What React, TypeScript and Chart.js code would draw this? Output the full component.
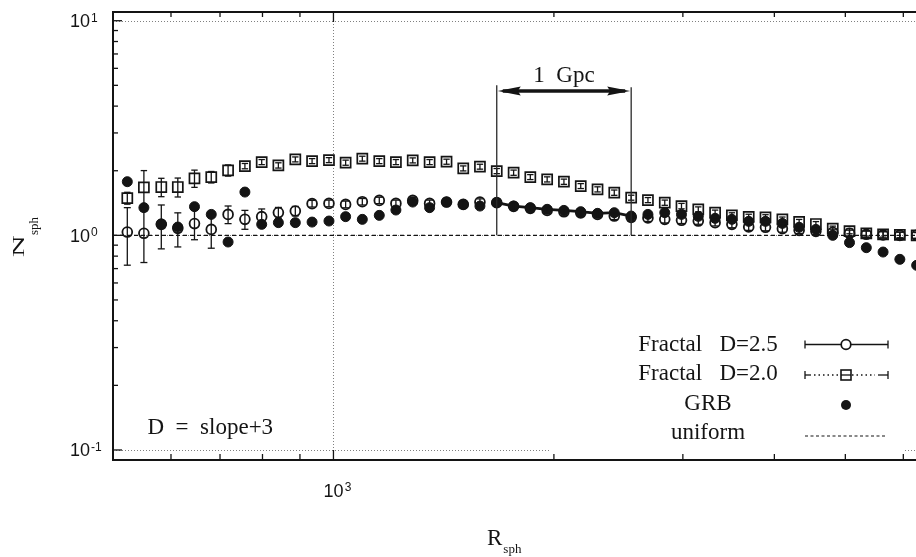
import React, { useEffect, useRef } from "react";
import { Chart, registerables } from "chart.js";
Chart.register(...registerables);

// Sphere radii R_sph (x positions of the measured points)
const radii = [523, 551, 582, 613, 646, 681, 718, 757, 798, 841, 887, 935, 986, 1039, 1095, 1155, 1217, 1283, 1353, 1427, 1504, 1585, 1671, 1762, 1857, 1958, 2064, 2176, 2294, 2418, 2550, 2688, 2834, 2987, 3149, 3320, 3500, 3690, 3890, 4102, 4324, 4558, 4806, 5066, 5341, 5630, 5935, 6257];

// GRB counts
const grb = [1.778, 1.346, 1.13, 1.093, 1.36, 1.252, 0.931, 1.591, 1.125, 1.146, 1.146, 1.153, 1.166, 1.222, 1.187, 1.239, 1.312, 1.429, 1.346, 1.429, 1.394, 1.369, 1.42, 1.369, 1.346, 1.322, 1.307, 1.289, 1.266, 1.275, 1.23, 1.252, 1.276, 1.252, 1.226, 1.2, 1.187, 1.162, 1.162, 1.137, 1.09, 1.066, 1.0, 0.925, 0.876, 0.836, 0.773, 0.725];

// Fractal D=2.0 (squares)
const frac20 = [1.492, 1.673, 1.679, 1.679, 1.843, 1.869, 2.008, 2.102, 2.195, 2.118, 2.259, 2.218, 2.242, 2.181, 2.277, 2.218, 2.195, 2.235, 2.195, 2.204, 2.051, 2.089, 1.993, 1.959, 1.869, 1.823, 1.778, 1.697, 1.638, 1.581, 1.498, 1.46, 1.42, 1.369, 1.322, 1.276, 1.239, 1.219, 1.213, 1.187, 1.156, 1.129, 1.074, 1.047, 1.022, 1.011, 1.005, 1.0];
const frac20Err = [0.095, 0.33, 0.165, 0.17, 0.17, 0.115, 0.12, 0.06, 0.06, 0.06, 0.06, 0.06, 0.06, 0.06, 0.06, 0.06, 0.06, 0.06, 0.06, 0.06, 0.055, 0.055, 0.055, 0.055, 0.05, 0.05, 0.05, 0.045, 0.045, 0.045, 0.04, 0.04, 0.04, 0.04, 0.035, 0.035, 0.035, 0.035, 0.035, 0.03, 0.03, 0.03, 0.03, 0.03, 0.03, 0.03, 0.03, 0.03];

// Fractal D=2.5 (open circles)
const frac25 = [1.036, 1.022, 1.125, 1.078, 1.134, 1.066, 1.252, 1.187, 1.222, 1.276, 1.298, 1.405, 1.409, 1.394, 1.435, 1.455, 1.409, 1.455, 1.409, 1.429, 1.394, 1.429, 1.42, 1.365, 1.336, 1.307, 1.287, 1.273, 1.252, 1.23, 1.213, 1.206, 1.187, 1.175, 1.166, 1.146, 1.125, 1.095, 1.09, 1.074, 1.055, 1.044, 1.033, 1.022, 1.011, 1.005, 1.0, 1.0];
const frac25Err = [0.31, 0.275, 0.26, 0.195, 0.18, 0.195, 0.118, 0.12, 0.105, 0.073, 0.066, 0.05, 0.05, 0.05, 0.05, 0.05, 0.05, 0.05, 0.05, 0.05, 0.05, 0.05, 0.05, 0.05, 0.045, 0.045, 0.045, 0.045, 0.045, 0.045, 0.045, 0.045, 0.045, 0.04, 0.04, 0.04, 0.04, 0.04, 0.04, 0.04, 0.035, 0.035, 0.035, 0.035, 0.035, 0.035, 0.035, 0.035];

const uniformLevel = 1;
const xMin = 500;
const xMax = 6244;
const yMin = 0.0898;
const yMax = 10.98;

const xMajorTicks = [1000];
const xMinorTicks = [600, 700, 800, 900, 2000, 3000, 4000, 5000, 6000];
const yMajorTicks = [0.1, 1, 10];
const yMinorTicks = [0.2, 0.3, 0.4, 0.5, 0.6, 0.7, 0.8, 0.9, 2, 3, 4, 5, 6, 7, 8, 9];
const xTickLabels = [{ v: 1000, base: "10", exp: "3" }];
const yTickLabels = [
  { v: 10, base: "10", exp: "1" },
  { v: 1, base: "10", exp: "0" },
  { v: 0.1, base: "10", exp: "-1" },
];

// 1 Gpc bracket: from point index to point index
const gpcFrom = 22;
const gpcTo = 30;
const gpcTop = 5.0;
const gpcArrow = 4.7;

const legendItems = ["Fractal   D=2.5", "Fractal   D=2.0", "GRB", "uniform"];

const INK = "#141414";
const SERIF = "'Liberation Serif', 'Times New Roman', serif";
const SANS = "'Liberation Sans', Arial, sans-serif";

function line(ctx: CanvasRenderingContext2D, x1: number, y1: number, x2: number, y2: number) {
  ctx.beginPath();
  ctx.moveTo(x1, y1);
  ctx.lineTo(x2, y2);
  ctx.stroke();
}

const customPlugin = {
  id: "custom",
  beforeDatasetsDraw(chart: any) {
    const { ctx, chartArea: a, scales } = chart;
    const x = scales.x, y = scales.y;
    ctx.save();
    ctx.strokeStyle = "#808080";
    ctx.lineWidth = 1;
    ctx.setLineDash([1, 2]);
    for (const v of yMajorTicks) {
      const py = Math.round(y.getPixelForValue(v)) + 0.5;
      line(ctx, a.left, py, a.right, py);
    }
    for (const v of xMajorTicks) {
      const px = Math.round(x.getPixelForValue(v)) + 0.5;
      line(ctx, px, a.top, px, a.bottom);
    }
    ctx.setLineDash([]);
    // legend box (white background)
    ctx.fillStyle = "#fff";
    ctx.fillRect(551, 322, 354, 130);
    ctx.restore();
  },
  afterDatasetsDraw(chart: any) {
    const { ctx, chartArea: a, scales } = chart;
    const x = scales.x, y = scales.y;
    ctx.save();
    ctx.beginPath();
    ctx.rect(a.left, a.top, a.right - a.left, a.bottom - a.top);
    ctx.clip();
    // error bars
    ctx.strokeStyle = INK;
    ctx.lineWidth = 1.3;
    const bars = (vals: number[], errs: number[], cap: number) => {
      for (let i = 0; i < vals.length; i++) {
        const px = x.getPixelForValue(radii[i]);
        const t = y.getPixelForValue(vals[i] + errs[i]);
        const b = y.getPixelForValue(vals[i] - errs[i]);
        line(ctx, px, t, px, b);
        line(ctx, px - cap, t, px + cap, t);
        line(ctx, px - cap, b, px + cap, b);
      }
    };
    bars(frac25, frac25Err, 3.5);
    bars(frac20, frac20Err, 3.2);

    // 1 Gpc bracket
    const xl = x.getPixelForValue(radii[gpcFrom]);
    const xr = x.getPixelForValue(radii[gpcTo]);
    const yb = y.getPixelForValue(uniformLevel);
    const yt = y.getPixelForValue(gpcTop);
    const ya = y.getPixelForValue(gpcArrow);
    ctx.strokeStyle = "#2a2a2a";
    ctx.lineWidth = 1.3;
    line(ctx, xl, yb, xl, yt);
    line(ctx, xr, yb, xr, yt + 2);
    ctx.strokeStyle = INK;
    ctx.lineWidth = 3.5;
    line(ctx, xl + 6, ya, xr - 6, ya);
    ctx.fillStyle = INK;
    ctx.beginPath();
    ctx.moveTo(xl + 1, ya);
    ctx.lineTo(xl + 24, ya - 4.5);
    ctx.lineTo(xl + 21, ya);
    ctx.lineTo(xl + 24, ya + 4.5);
    ctx.closePath();
    ctx.fill();
    ctx.beginPath();
    ctx.moveTo(xr - 1, ya);
    ctx.lineTo(xr - 24, ya - 4.5);
    ctx.lineTo(xr - 21, ya);
    ctx.lineTo(xr - 24, ya + 4.5);
    ctx.closePath();
    ctx.fill();
    ctx.restore();

    ctx.save();
    ctx.fillStyle = INK;
    ctx.font = `23px ${SERIF}`;
    ctx.textAlign = "center";
    ctx.textBaseline = "alphabetic";
    ctx.fillText("1  Gpc", (xl + xr) / 2, ya - 9);

    // axes borders
    ctx.strokeStyle = INK;
    ctx.lineWidth = 2;
    line(ctx, a.left, a.top, a.left, a.bottom + 1);
    line(ctx, a.left - 1, a.bottom, a.right, a.bottom);
    line(ctx, a.left - 1, a.top, a.right, a.top);

    // inward ticks
    ctx.lineWidth = 1.3;
    for (const v of xMinorTicks) {
      const px = x.getPixelForValue(v);
      line(ctx, px, a.bottom, px, a.bottom - 6);
      line(ctx, px, a.top, px, a.top + 5);
    }
    for (const v of xMajorTicks) {
      const px = x.getPixelForValue(v);
      line(ctx, px, a.bottom, px, a.bottom - 10);
      line(ctx, px, a.top, px, a.top + 10);
    }
    for (const v of yMinorTicks) {
      const py = y.getPixelForValue(v);
      line(ctx, a.left, py, a.left + 5, py);
    }
    for (const v of yMajorTicks) {
      const py = y.getPixelForValue(v);
      line(ctx, a.left, py, a.left + 9, py);
    }

    // tick labels
    ctx.fillStyle = INK;
    ctx.textBaseline = "alphabetic";
    for (const t of yTickLabels) {
      const py = y.getPixelForValue(t.v);
      ctx.font = `18px ${SANS}`;
      ctx.textAlign = "right";
      ctx.fillText(t.base, 90, py + 6.5);
      ctx.font = `12px ${SANS}`;
      ctx.textAlign = "left";
      ctx.fillText(t.exp, 91, py + 1);
    }
    for (const t of xTickLabels) {
      const px = x.getPixelForValue(t.v);
      ctx.font = `18px ${SANS}`;
      ctx.textAlign = "left";
      const w = ctx.measureText(t.base).width;
      ctx.font = `12px ${SANS}`;
      const we = ctx.measureText(t.exp).width;
      const left = px + 4 - (w + we + 1) / 2;
      ctx.font = `18px ${SANS}`;
      ctx.fillText(t.base, left, 496.5);
      ctx.font = `12px ${SANS}`;
      ctx.fillText(t.exp, left + w + 1, 491);
    }

    // axis titles
    ctx.textAlign = "left";
    ctx.font = `23px ${SERIF}`;
    ctx.fillText("R", 487, 545);
    const rw = ctx.measureText("R").width;
    ctx.font = `13px ${SERIF}`;
    ctx.fillText("sph", 487 + rw + 1, 553);

    ctx.save();
    ctx.translate(23.5, 257);
    ctx.rotate(-Math.PI / 2);
    ctx.font = `24px ${SERIF}`;
    ctx.textAlign = "left";
    ctx.save();
    ctx.scale(1.25, 0.68);
    ctx.fillText("N", 0, 0);
    ctx.restore();
    ctx.font = `13px ${SERIF}`;
    ctx.fillText("sph", 22, 14);
    ctx.restore();

    // annotation
    ctx.font = `23px ${SERIF}`;
    ctx.textAlign = "left";
    ctx.fillText("D  =  slope+3", 147.5, 433.5);

    // legend
    ctx.textAlign = "center";
    const rowsText = [351, 380, 410, 438.5];
    legendItems.forEach((s, i) => ctx.fillText(s, 708, rowsText[i]));
    const sx1 = 805, sx2 = 888, sc = 846;
    ctx.strokeStyle = INK;
    ctx.lineWidth = 1.3;
    // row 1
    let ly = 344.5;
    line(ctx, sx1, ly, sx2, ly);
    line(ctx, sx1, ly - 4, sx1, ly + 4);
    line(ctx, sx2, ly - 4, sx2, ly + 4);
    ctx.fillStyle = "#fff";
    ctx.beginPath();
    ctx.arc(sc, ly, 4.8, 0, Math.PI * 2);
    ctx.fill();
    ctx.lineWidth = 1.7;
    ctx.stroke();
    // row 2
    ly = 375;
    ctx.lineWidth = 1.3;
    line(ctx, sx1, ly - 4, sx1, ly + 4);
    line(ctx, sx2, ly - 4, sx2, ly + 4);
    line(ctx, sx1, ly, sx1 + 6, ly);
    line(ctx, sx2 - 10, ly, sx2, ly);
    ctx.setLineDash([1.5, 3]);
    line(ctx, sx1 + 9, ly, sc - 6, ly);
    line(ctx, sc + 6, ly, sx2 - 13, ly);
    ctx.setLineDash([]);
    ctx.lineWidth = 1.6;
    ctx.strokeRect(sc - 5, ly - 5, 10, 10);
    ctx.lineWidth = 1.3;
    line(ctx, sc - 5, ly, sc + 5, ly);
    // row 3
    ly = 405;
    ctx.fillStyle = INK;
    ctx.beginPath();
    ctx.arc(sc, ly, 5, 0, Math.PI * 2);
    ctx.fill();
    // row 4
    ly = 436;
    ctx.lineWidth = 1.2;
    ctx.setLineDash([3, 2.5]);
    line(ctx, sx1, ly, sx2 - 3, ly);
    ctx.setLineDash([]);
    ctx.restore();
  },
};

export default function App() {
  const ref = useRef<HTMLCanvasElement>(null);
  useEffect(() => {
    const canvas = ref.current!;
    const pts = (vals: number[]) => vals.map((v, i) => ({ x: radii[i], y: v }));
    const chart = new Chart(canvas, {
      type: "scatter",
      data: {
        datasets: [
          {
            label: "GRB",
            data: pts(grb),
            pointStyle: "circle",
            pointRadius: 5,
            pointBackgroundColor: INK,
            pointBorderColor: INK,
            pointBorderWidth: 1,
            showLine: false,
            order: 0,
          },
          {
            label: "Fractal D=2.5",
            data: pts(frac25),
            pointStyle: "circle",
            pointRadius: 4.9,
            pointBackgroundColor: "rgba(0,0,0,0)",
            pointBorderColor: INK,
            pointBorderWidth: 1.8,
            showLine: false,
            order: 1,
          },
          {
            label: "Fractal D=2.0",
            data: pts(frac20),
            pointStyle: "rect",
            pointRadius: 7.1,
            pointBackgroundColor: "rgba(0,0,0,0)",
            pointBorderColor: INK,
            pointBorderWidth: 1.7,
            showLine: false,
            order: 2,
          },
          {
            label: "GRB 1 Gpc",
            data: pts(grb).slice(gpcFrom, gpcTo + 1),
            showLine: true,
            borderColor: INK,
            borderWidth: 2.8,
            pointRadius: 0,
            order: 3,
          },
          {
            label: "uniform",
            data: [
              { x: xMin, y: uniformLevel },
              { x: xMax, y: uniformLevel },
            ],
            showLine: true,
            borderColor: INK,
            borderWidth: 1.2,
            borderDash: [4, 3],
            pointRadius: 0,
            order: 4,
          },
        ],
      },
      options: {
        animation: false,
        responsive: false,
        devicePixelRatio: 1,
        events: [],
        layout: { autoPadding: false, padding: { left: 113, top: 12, right: 0, bottom: 97 } },
        scales: {
          x: { type: "logarithmic", min: xMin, max: xMax, bounds: "data", display: false },
          y: { type: "logarithmic", min: yMin, max: yMax, bounds: "data", display: false },
        },
        plugins: { legend: { display: false }, tooltip: { enabled: false } },
      } as any,
      plugins: [customPlugin],
    });
    return () => chart.destroy();
  }, []);
  return (
    <div style={{ position: "absolute", left: 0, top: 0, width: 916, height: 557, background: "#fff" }}>
      <canvas ref={ref} width={916} height={557} style={{ display: "block" }} />
    </div>
  );
}
